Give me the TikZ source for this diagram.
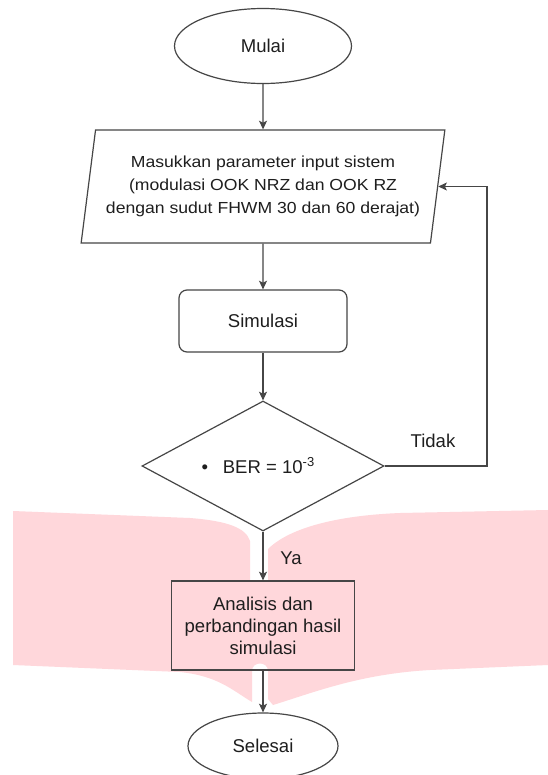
\documentclass[tikz,border=0pt]{standalone}
\usepackage{fontspec}
\setmainfont{Liberation Sans}
\newfontfamily\parafont{Liberation Sans}[FakeStretch=1.1]
\usetikzlibrary{shapes.geometric,arrows.meta}
\definecolor{pinkband}{RGB}{255,215,219}
\definecolor{linegray}{RGB}{70,70,70}
\definecolor{txt}{RGB}{30,30,30}
\begin{document}
\begin{tikzpicture}[x=0.75pt,y=-0.75pt,
  every node/.style={font=\fontsize{13.9}{16.5}\selectfont, text=txt},
  shapebox/.style={draw=linegray, line width=0.9pt, align=center, inner sep=0pt},
  arr/.style={draw=linegray, line width=0.9pt, -{Stealth[length=6.5pt,width=6pt,inset=1.5pt]}},
  lbl/.style={inner sep=0pt}]
\useasboundingbox (0,0) rectangle (548,775);
\fill[white] (0,0) rectangle (548,775);
% pink band
\fill[pinkband] (13,511) -- (190,518) .. controls (228,521) and (246,528) .. (250,541)
  -- (250,581) -- (268,581) -- (268,549) .. controls (285,532) and (325,516) .. (400,513)
  -- (548,510) -- (548,665) -- (430,670) .. controls (360,674) and (315,692) .. (273,705)
  -- (268,699) -- (268,671) .. controls (268,661) and (252,661) .. (252,671)
  -- (252,702) .. controls (232,690) and (218,676) .. (180,672) -- (13,665) -- cycle;
% nodes
\node[shapebox, ellipse, minimum width=132.75pt, minimum height=56.25pt] (start) at (263,46) {Mulai};
\node[shapebox, trapezium, trapezium left angle=77.5, trapezium right angle=102.5,
  trapezium stretches=true, minimum width=273pt, minimum height=84.75pt,
  font=\parafont\fontsize{12}{17.25}\selectfont] (input) at (263,186.5)
  {Masukkan parameter input sistem\\(modulasi OOK NRZ dan OOK RZ\\dengan sudut FHWM 30 dan 60 derajat)};
\node[shapebox, rounded corners=6pt, minimum width=126pt, minimum height=46.5pt] (sim) at (263,321) {Simulasi};
\node[shapebox, diamond, aspect=2, minimum width=181.5pt, minimum height=97.5pt] (dec) at (263,466)
  {\textbullet\hspace{11pt}BER = 10\textsuperscript{-3}\hspace{7pt}};
\node[shapebox, minimum width=137.25pt, minimum height=66.75pt] (ana) at (263,625.5)
  {Analisis dan\\perbandingan hasil\\simulasi};
\node[shapebox, ellipse, minimum width=112.5pt, minimum height=49.5pt] (end) at (263,746) {Selesai};
\coordinate (fb) at (487,466);
% connectors
\draw[arr] (start) -- (input);
\draw[arr] (input) -- (sim);
\draw[arr] (sim) -- (dec);
\draw[arr] (dec) -- (ana);
\draw[arr] (ana) -- (end);
\draw[arr] (dec.east) -- (fb) |- (input.east);
% labels
\node[lbl] (tidak) at (433,441) {Tidak};
\node[lbl] (ya) at (291,558) {Ya};
\end{tikzpicture}
\end{document}
